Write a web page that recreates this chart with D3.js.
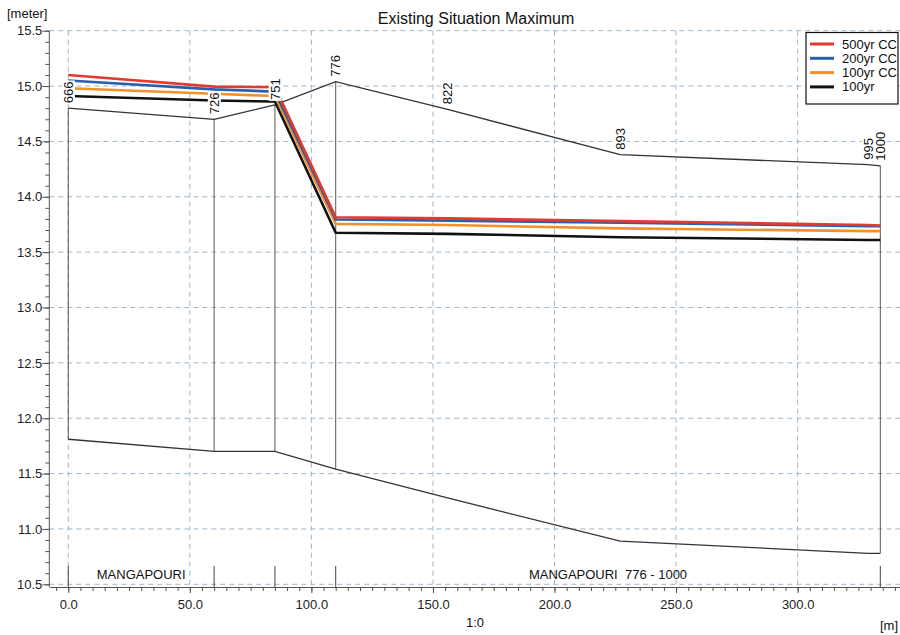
<!DOCTYPE html>
<html>
<head>
<meta charset="utf-8">
<script src="https://cdn.jsdelivr.net/npm/d3@7"></script>
<style>
  html, body { margin: 0; padding: 0; background: #fff; }
  svg { display: block; font-family: "Liberation Sans", Arial, sans-serif; }
</style>
</head>
<body>
<svg id="chart" width="900" height="635"></svg>
<script>
// ---- data ----
const chartTitle = "Existing Situation Maximum";
const chainages = ["666", "726", "751", "776", "822", "893", "995", "1000"];
const distances = [0, 60, 85, 110, 156, 227, 329, 334];
const bankLevel = [14.80, 14.70, 14.83, 15.04, 14.79, 14.38, 14.29, 14.28];
const bedLevel  = [11.81, 11.70, 11.70, 11.54, 11.28, 10.89, 10.78, 10.78];
const sectionDrawn = [true, true, true, true, false, false, false, true];

const seriesNames = ["500yr CC", "200yr CC", "100yr CC", "100yr"];
const wl500cc = [15.10, 14.995, 14.99, 13.815, 13.805, 13.78, 13.745, 13.74];
const wl200cc = [15.05, 14.97, 14.95, 13.795, 13.785, 13.765, 13.735, 13.735];
const wl100cc = [14.98, 14.93, 14.91, 13.755, 13.745, 13.715, 13.69, 13.69];
const wl100   = [14.91, 14.87, 14.86, 13.675, 13.665, 13.635, 13.61, 13.61];
const seriesColors = ["#e23b2e", "#2a5fae", "#f0912a", "#111111"];

const reachNames = ["MANGAPOURI", "MANGAPOURI  776 - 1000"];
const reachStart = [0, 110];
const reachEnd = [60, 334];

const yTicks = [10.5, 11.0, 11.5, 12.0, 12.5, 13.0, 13.5, 14.0, 14.5, 15.0, 15.5];
const xTicks = [0, 50, 100, 150, 200, 250, 300];
const yUnit = "[meter]";
const xUnit = "[m]";
const xCaption = "1:0";

// ---- layout ----
const svg = d3.select("#chart");
const L = 49.3, R = 900, T = 30.7, B = 584.3, axisY = 587;
const x = d3.scaleLinear().domain([-7.8, 342.1]).range([L, R]);
const y = d3.scaleLinear().domain([10.5, 15.5]).range([B, T]);

svg.append("rect").attr("width", 900).attr("height", 635).attr("fill", "#fff");

// grid
const grid = svg.append("g").attr("stroke", "#9fb7ca").attr("stroke-width", 1).attr("stroke-dasharray", "5,4");
grid.selectAll("line.h").data(yTicks).join("line")
  .attr("x1", L).attr("x2", R).attr("y1", d => y(d)).attr("y2", d => y(d));
grid.selectAll("line.v").data(xTicks).join("line")
  .attr("x1", d => x(d)).attr("x2", d => x(d)).attr("y1", T).attr("y2", B);

// y axis
const yAxis = svg.append("g").attr("transform", `translate(${L},0)`)
  .call(d3.axisLeft(y).tickValues(yTicks).tickFormat(d3.format(".1f")).tickSize(7).tickSizeOuter(0));
const yMinor = svg.append("g").attr("transform", `translate(${L},0)`)
  .call(d3.axisLeft(y).tickValues(d3.range(105, 156).map(v => v / 10)).tickFormat("").tickSize(4).tickSizeOuter(0));
yMinor.select(".domain").remove();
yAxis.select(".domain").attr("d", `M0,${T}V${axisY}`);

// x axis
const xAxis = svg.append("g").attr("transform", `translate(0,${axisY})`)
  .call(d3.axisBottom(x).tickValues(xTicks).tickFormat(d3.format(".1f")).tickSize(6).tickSizeOuter(0));
const xMinor = svg.append("g").attr("transform", `translate(0,${axisY})`)
  .call(d3.axisBottom(x).tickValues(d3.range(-5, 341, 5)).tickFormat("").tickSize(4).tickSizeOuter(0));
xMinor.select(".domain").remove();

[yAxis, yMinor, xAxis, xMinor].forEach(g => {
  g.selectAll("line").attr("stroke", "#555");
  g.selectAll(".domain").attr("stroke", "#555");
  g.selectAll("text").attr("fill", "#222").style("font-size", "13px").style("font-family", "Liberation Sans, Arial, sans-serif");
});
yAxis.selectAll("text").attr("x", -7);
xAxis.selectAll("text").attr("y", 13);

// section vertical lines
const idx = d3.range(distances.length).filter(i => sectionDrawn[i]);
svg.append("g").selectAll("line").data(idx).join("line")
  .attr("x1", i => x(distances[i])).attr("x2", i => x(distances[i]))
  .attr("y1", i => y(bedLevel[i])).attr("y2", i => y(bankLevel[i]))
  .attr("stroke", "#444").attr("stroke-width", 0.9);
// bottom reach markers
svg.append("g").selectAll("line").data(idx).join("line")
  .attr("x1", i => x(distances[i])).attr("x2", i => x(distances[i]))
  .attr("y1", 566).attr("y2", axisY)
  .attr("stroke", "#444").attr("stroke-width", 1);

// bank and bed
const lineGen = d3.line().x(d => x(d[0])).y(d => y(d[1]));
[bankLevel, bedLevel].forEach(arr => {
  svg.append("path").datum(distances.map((d, i) => [d, arr[i]]))
    .attr("d", lineGen).attr("fill", "none").attr("stroke", "#333").attr("stroke-width", 1.3);
});

// water levels
const wls = [wl500cc, wl200cc, wl100cc, wl100];
wls.slice().reverse().forEach((arr, k) => {
  const i = wls.length - 1 - k;
  svg.append("path").datum(distances.map((d, j) => [d, arr[j]]))
    .attr("d", lineGen).attr("fill", "none").attr("stroke", seriesColors[i])
    .attr("stroke-width", 2.6).attr("stroke-linejoin", "round");
});

// chainage labels
chainages.forEach((c, i) => {
  const g = svg.append("g").attr("transform", `translate(${x(distances[i])},${y(bankLevel[i]) - 5}) rotate(-90)`);
  const t = g.append("text").text(c).attr("x", 0).attr("dy", "0.36em")
    .style("font-size", "13px").attr("fill", "#111");
  const bb = t.node().getBBox();
  g.insert("rect", "text").attr("x", bb.x - 1).attr("y", bb.y + 1).attr("width", bb.width + 2).attr("height", bb.height - 2).attr("fill", "#fff");
});

// reach labels
reachNames.forEach((n, i) => {
  svg.append("text").text(n).attr("x", x((reachStart[i] + reachEnd[i]) / 2)).attr("y", 579)
    .attr("text-anchor", "middle").style("font-size", "13px").attr("fill", "#111").style("white-space", "pre");
});

// title and units
svg.append("text").text(chartTitle).attr("x", 476).attr("y", 24).attr("text-anchor", "middle")
  .style("font-size", "16px").attr("fill", "#111");
svg.append("text").text(yUnit).attr("x", 7).attr("y", 18).style("font-size", "13px").attr("fill", "#111");
svg.append("text").text(xCaption).attr("x", 475).attr("y", 627).attr("text-anchor", "middle").style("font-size", "13px").attr("fill", "#111");
svg.append("text").text(xUnit).attr("x", 898).attr("y", 630).attr("text-anchor", "end").style("font-size", "13px").attr("fill", "#111");

// legend
const lg = svg.append("g");
lg.append("rect").attr("x", 806).attr("y", 32.5).attr("width", 92).attr("height", 71.5)
  .attr("fill", "#fff").attr("stroke", "#111").attr("stroke-width", 1.2);
seriesNames.forEach((n, i) => {
  const yy = 44 + i * 14.3;
  lg.append("line").attr("x1", 810).attr("x2", 834).attr("y1", yy).attr("y2", yy)
    .attr("stroke", seriesColors[i]).attr("stroke-width", 3);
  lg.append("text").text(n).attr("x", 842).attr("y", yy).attr("dy", "0.35em")
    .style("font-size", "13px").attr("fill", "#111");
});
</script>
</body>
</html>
